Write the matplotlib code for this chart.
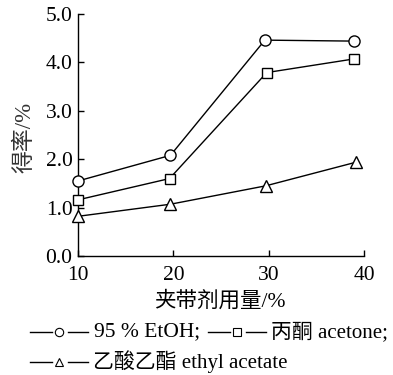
import matplotlib
matplotlib.use("Agg")
import matplotlib.pyplot as plt
from matplotlib.lines import Line2D

x_etoh = [10, 19.7, 29.6, 38.9]
y_etoh = [1.55, 2.08, 4.46, 4.44]
x_acet = [10, 19.6, 29.8, 38.9]
y_acet = [1.16, 1.60, 3.79, 4.07]
x_ea = [10, 19.7, 29.7, 39.2]
y_ea = [0.82, 1.07, 1.45, 1.94]

xticks = [10, 20, 30, 40]
yticks = [0.0, 1.0, 2.0, 3.0, 4.0, 5.0]
ylabels = ["0.0", "1.0", "2.0", "3.0", "4.0", "5.0"]

FAM = ["Liberation Serif", "Noto Sans CJK SC", "DejaVu Sans"]
plt.rcParams['font.family'] = FAM

W, H = 393, 375
fig = plt.figure(figsize=(W/100, H/100), dpi=100)
ax = fig.add_axes([78/W, 1-256/H, (364-78)/W, (256-14)/H])

mk = dict(color='black', lw=1.0, markerfacecolor='white', markeredgecolor='black', markeredgewidth=1.0, clip_on=False, zorder=3)
ax.plot(x_etoh, y_etoh, marker='o', ms=8, **mk)
ax.plot(x_acet, y_acet, marker='s', ms=7, **mk)
ax.plot(x_ea, y_ea, marker='^', ms=8, **mk)

ax.set_xlim(10, 40)
ax.set_ylim(0, 5)
ax.set_xticks(xticks)
ax.set_yticks(yticks)
ax.set_yticklabels(ylabels)
ax.spines['top'].set_visible(False)
ax.spines['right'].set_visible(False)
ax.tick_params(direction='in', length=4, width=1, labelsize=15.5)
ax.tick_params(axis='x', pad=7)
ax.tick_params(axis='y', pad=4)
for s in ['left', 'bottom']:
    ax.spines[s].set_linewidth(1.0)

fig.text(25/W, 1-137/H, "得率/%", rotation=90, ha='center', va='center', fontsize=16.5, family=FAM, color='#333333')
fig.text(220/W, 1-301/H, "夹带剂用量/%", ha='center', va='center', fontsize=15.5, family=FAM)

def handle(x0, y, marker, ms):
    yy = 1 - y/H
    fig.add_artist(Line2D([x0/W, (x0+22)/W], [yy, yy], color='black', lw=1.0))
    fig.add_artist(Line2D([(x0+38)/W, (x0+58)/W], [yy, yy], color='black', lw=1.0))
    fig.add_artist(Line2D([(x0+29)/W], [yy], marker=marker, ms=ms, markerfacecolor='white',
                          markeredgecolor='black', markeredgewidth=0.8, lw=0))

handle(30, 332, 'o', 6)
fig.text(94/W, 1-332/H, "95 % EtOH;", ha='left', va='center', fontsize=15.5, family=FAM)
handle(208, 332, 's', 5.5)
fig.text(271/W, 1-332/H, "丙酮 acetone;", ha='left', va='center', fontsize=15, family=FAM)
handle(30, 362, '^', 6)
fig.text(93/W, 1-362/H, "乙酸乙酯 ethyl acetate", ha='left', va='center', fontsize=15, family=FAM)

fig.savefig("out.png", dpi=100)
